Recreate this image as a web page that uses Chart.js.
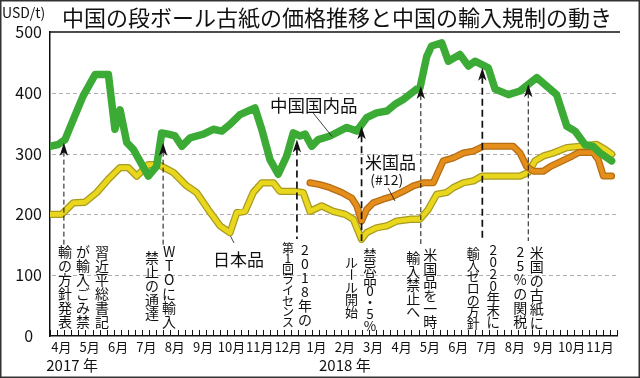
<!DOCTYPE html>
<html><head><meta charset="utf-8">
<script src="https://cdn.jsdelivr.net/npm/chart.js@4"></script>
<style>html,body{margin:0;padding:0;background:#fff}canvas{display:block}</style>
</head><body>
<canvas id="c" width="640" height="378"></canvas>
<script>
// ---- data (x = months since start of April 2017) ----
const monthLabels = ['4月','5月','6月','7月','8月','9月','10月','11月','12月','1月','2月','3月','4月','5月','6月','7月','8月','9月','10月','11月'];
const yearLabels = ['2017 年','2018 年'];
const yearMonths = [0.78, 10.4];
const yTicks = [0,100,200,300,400,500];

const chinaMonths = [0,0.29,0.53,0.82,1.17,1.59,2.06,2.29,2.47,2.71,2.94,3.47,3.76,3.94,4.17,4.41,4.65,4.94,5.41,5.76,6.06,6.35,6.70,7.23,7.47,7.76,8.05,8.35,8.58,8.82,9.00,9.23,9.46,9.88,10.47,10.82,11.17,11.52,11.88,12.17,12.46,12.93,13.05,13.29,13.46,13.82,14.05,14.46,14.76,14.99,15.46,15.70,16.17,16.58,17.17,17.87,18.23,18.52,18.87,19.16,19.40,19.81];
const chinaValues = [312,315,323,356,395,430,430,340,372,318,307,263,279,334,332,329,312,326,332,340,337,348,364,375,340,290,266,296,334,329,332,312,323,329,343,337,359,367,370,381,389,406,408,460,477,482,452,463,444,452,441,406,397,403,425,397,345,337,315,312,301,288];

const japanMonths = [0,0.41,0.82,1.23,1.65,2.06,2.47,2.76,3.06,3.47,3.82,4.35,4.82,5.17,5.58,6.00,6.35,6.59,6.88,7.17,7.47,7.88,8.11,8.64,8.93,9.17,9.58,9.99,10.41,10.70,10.99,11.17,11.52,11.88,12.23,12.70,13.05,13.34,13.64,13.99,14.23,14.58,14.93,15.23,15.64,16.58,16.87,17.11,17.40,17.75,18.23,18.69,19.28,19.58,19.81];
const japanValues = [200,200,219,220,236,258,277,277,263,282,282,269,247,236,208,181,170,203,205,236,252,252,238,238,236,205,214,205,200,192,159,170,178,181,189,192,192,208,233,236,244,252,255,263,263,263,269,288,296,301,310,312,315,307,299];

const usMonths = [9.17,9.52,9.88,10.29,10.64,10.82,10.99,11.17,11.40,11.75,12.11,12.46,12.82,13.17,13.52,13.87,14.23,14.58,14.93,15.29,16.34,16.58,16.81,17.05,17.40,17.66,18.07,18.42,18.66,19.16,19.34,19.52,19.81];
const usValues = [252,249,244,236,227,214,189,208,219,225,230,238,247,252,252,288,293,301,304,312,312,301,279,271,271,279,288,296,302,302,290,263,263];

// policy events: where the arrow points (month, price)
const eventMonths = [0.49, 3.99, 8.71, 10.99, 13.08, 15.25, 16.87];
const eventValues = [318, 318, 323, 345, 411, 441, 414];
const eventTexts = [
  ['習近平総書記','が輸入ごみ禁','輸の方針発表'],
  ['WTOに輸入','禁止の通達'],
  ['2018年の','第1回ライセンス'],
  ['禁忌品0・5%','ルール開始'],
  ['米国品を一時','輸入禁止へ'],
  ['2020年末に','輸入ゼロの方針'],
  ['米国の古紙に','25%の関税']
];

// ---- layout / style (not data) ----
const FF = '"Noto Sans CJK JP","Noto Sans",sans-serif';
const eventLayout = [
  {thick:false, bottom:245, cols:[{dx:38,y0:252,step:14,size:14},{dx:19,y0:252,step:14,size:14},{dx:1,y0:252,step:14,size:14}]},
  {thick:false, bottom:245, cols:[{dx:6,y0:252,step:14,size:14},{dx:-11,y0:258,step:13.8,size:14}]},
  {thick:true, bottom:239, cols:[{dx:8,y0:250,step:14,size:14},{dx:-9,y0:248,step:10.6,size:12}]},
  {thick:true, bottom:241, cols:[{dx:8.5,y0:255,step:11.8,size:13.5},{dx:-10,y0:262,step:12.5,size:13}]},
  {thick:false, bottom:244, cols:[{dx:9.5,y0:255,step:13.4,size:14},{dx:-7.5,y0:258,step:13.5,size:14}]},
  {thick:true, bottom:240, cols:[{dx:11,y0:250,step:12,size:13.5},{dx:-9,y0:253,step:11.7,size:13}]},
  {thick:false, bottom:241, cols:[{dx:8.5,y0:253,step:14,size:14},{dx:-8,y0:252,step:14,size:14}]}
];
const seriesLabels = [
  {text:'中国国内品', m:7.76, v:380, size:17.5, lead:[9.28,367,9.95,328]},
  {text:'米国品', m:11.11, v:285, size:17, lead:null},
  {text:'(#12)', m:11.3, v:257, size:14, lead:[11.93,243,12.17,222]},
  {text:'日本品', m:5.75, v:126, size:17, lead:[6.37,164,6.49,153]}
];

const toXY = (xs, ys) => xs.map((x, i) => ({x: x, y: ys[i]}));

const decor = {
  id: 'decor',
  beforeDraw(chart) {
    const c = chart.ctx;
    c.save(); c.fillStyle = '#fff'; c.fillRect(0, 0, chart.width, chart.height); c.restore();
  },
  beforeDatasetsDraw(chart) {
    const c = chart.ctx, a = chart.chartArea, ys = chart.scales.y;
    c.save();
    c.strokeStyle = '#9a9a9a'; c.lineWidth = 0.8; c.setLineDash([4, 3]);
    yTicks.forEach(v => {
      if (v <= 0 || v >= 500) return;
      const y = Math.round(ys.getPixelForValue(v)) + 0.5;
      c.beginPath(); c.moveTo(a.left + 2, y); c.lineTo(a.right + 2, y); c.stroke();
    });
    c.restore();
  },
  afterDatasetsDraw(chart) {
    const c = chart.ctx, xs = chart.scales.x, ys = chart.scales.y;
    c.save();
    eventMonths.forEach((m, i) => {
      const L = eventLayout[i];
      const x = xs.getPixelForValue(m), yt = ys.getPixelForValue(eventValues[i]);
      c.strokeStyle = '#111';
      c.lineWidth = L.thick ? 1.7 : 1;
      c.setLineDash(L.thick ? [7, 4] : [5, 3]);
      c.beginPath(); c.moveTo(x, yt + 9); c.lineTo(x, L.bottom); c.stroke();
      c.setLineDash([]);
      c.fillStyle = '#111';
      c.beginPath(); c.moveTo(x, yt); c.lineTo(x - 4.2, yt + 13); c.lineTo(x, yt + 9.5); c.lineTo(x + 4.2, yt + 13); c.closePath(); c.fill();
      // vertical text
      eventTexts[i].forEach((t, k) => {
        const col = L.cols[k];
        c.font = col.size + 'px ' + FF;
        c.textAlign = 'center'; c.textBaseline = 'middle';
        Array.from(t).forEach((ch, j) => {
          const cx = x + col.dx, cy = col.y0 + j * col.step;
          if (ch === 'ー') {
            c.save(); c.translate(cx, cy); c.rotate(Math.PI / 2); c.fillText(ch, 0, 0); c.restore();
          } else {
            c.fillText(ch, cx, cy);
          }
        });
      });
    });
    c.restore();
  },
  afterDraw(chart) {
    const c = chart.ctx, a = chart.chartArea, xs = chart.scales.x, ys = chart.scales.y;
    c.save();
    // top rule (title underline) at 500
    const yTop = ys.getPixelForValue(500);
    c.strokeStyle = '#111'; c.lineWidth = 1.5;
    c.beginPath(); c.moveTo(a.left - 0.75, yTop); c.lineTo(a.right + 3, yTop); c.stroke();
    // weekly ticks pointing up
    c.lineWidth = 1;
    for (let v = 0; v <= 20.001; v += 0.25) {
      const x = Math.round(xs.getPixelForValue(v)) + 0.5;
      c.beginPath(); c.moveTo(x, a.bottom); c.lineTo(x, a.bottom - 6); c.stroke();
    }
    // title
    c.fillStyle = '#111'; c.textBaseline = 'middle'; c.textAlign = 'left';
    c.font = '22px ' + FF;
    c.fillText('中国の段ボール古紙の価格推移と中国の輸入規制の動き', 62, 18);
    c.font = '14px ' + FF;
    c.fillText('USD/t)', 2, 13);
    // years
    c.font = '15px ' + FF; c.textAlign = 'center';
    yearLabels.forEach((t, i) => c.fillText(t, xs.getPixelForValue(yearMonths[i]), 365));
    // series labels
    c.textAlign = 'left';
    seriesLabels.forEach(s => {
      c.font = s.size + 'px ' + FF;
      c.fillText(s.text, xs.getPixelForValue(s.m), ys.getPixelForValue(s.v));
      if (s.lead) {
        c.lineWidth = 0.8;
        c.beginPath();
        c.moveTo(xs.getPixelForValue(s.lead[0]), ys.getPixelForValue(s.lead[1]));
        c.lineTo(xs.getPixelForValue(s.lead[2]), ys.getPixelForValue(s.lead[3]));
        c.stroke();
      }
    });
    // outer frame
    c.strokeStyle = '#333'; c.lineWidth = 1.5;
    c.strokeRect(0.75, 0.75, chart.width - 1.5, chart.height - 1.5);
    c.restore();
  }
};

Chart.defaults.font.family = FF;
new Chart(document.getElementById('c'), {
  type: 'line',
  data: {
    datasets: [
      {data: toXY(chinaMonths, chinaValues), borderColor: '#3cab36', borderWidth: 7.5, order: 0},
      {data: toXY(usMonths, usValues), borderColor: '#e48e1c', borderWidth: 4.5, order: 1},
      {data: toXY(usMonths, usValues), borderColor: '#b56c12', borderWidth: 7, order: 2},
      {data: toXY(japanMonths, japanValues), borderColor: '#e8d71c', borderWidth: 4.8, order: 3},
      {data: toXY(japanMonths, japanValues), borderColor: '#a99a22', borderWidth: 7.3, order: 4}
    ]
  },
  options: {
    responsive: false, animation: false, devicePixelRatio: 1,
    layout: {padding: {top: 32, right: 23, left: 0, bottom: 0}},
    elements: {point: {radius: 0}, line: {tension: 0, borderJoinStyle: 'round', borderCapStyle: 'round', fill: false}},
    plugins: {legend: {display: false}, tooltip: {enabled: false}},
    scales: {
      x: {
        type: 'linear', min: 0, max: 20,
        grid: {display: false, drawTicks: false},
        border: {display: true, color: '#111', width: 1.5},
        afterBuildTicks: s => { s.ticks = monthLabels.map((_, i) => ({value: i + 0.4})); },
        afterFit: s => { s.height = 42; },
        ticks: {autoSkip: false, maxRotation: 0, padding: 3, color: '#111', font: {size: 13}, callback: (v, i) => monthLabels[i]}
      },
      y: {
        type: 'linear', min: 0, max: 500,
        afterBuildTicks: s => { s.ticks = yTicks.map(v => ({value: v})); },
        afterFit: s => { s.width = 50; },
        grid: {display: false, drawTicks: false},
        border: {display: true, color: '#111', width: 1.5},
        ticks: {crossAlign: 'center', padding: 8, color: '#111', font: {size: 16}, callback: v => String(v)}
      }
    }
  },
  plugins: [decor]
});
</script>
</body></html>
